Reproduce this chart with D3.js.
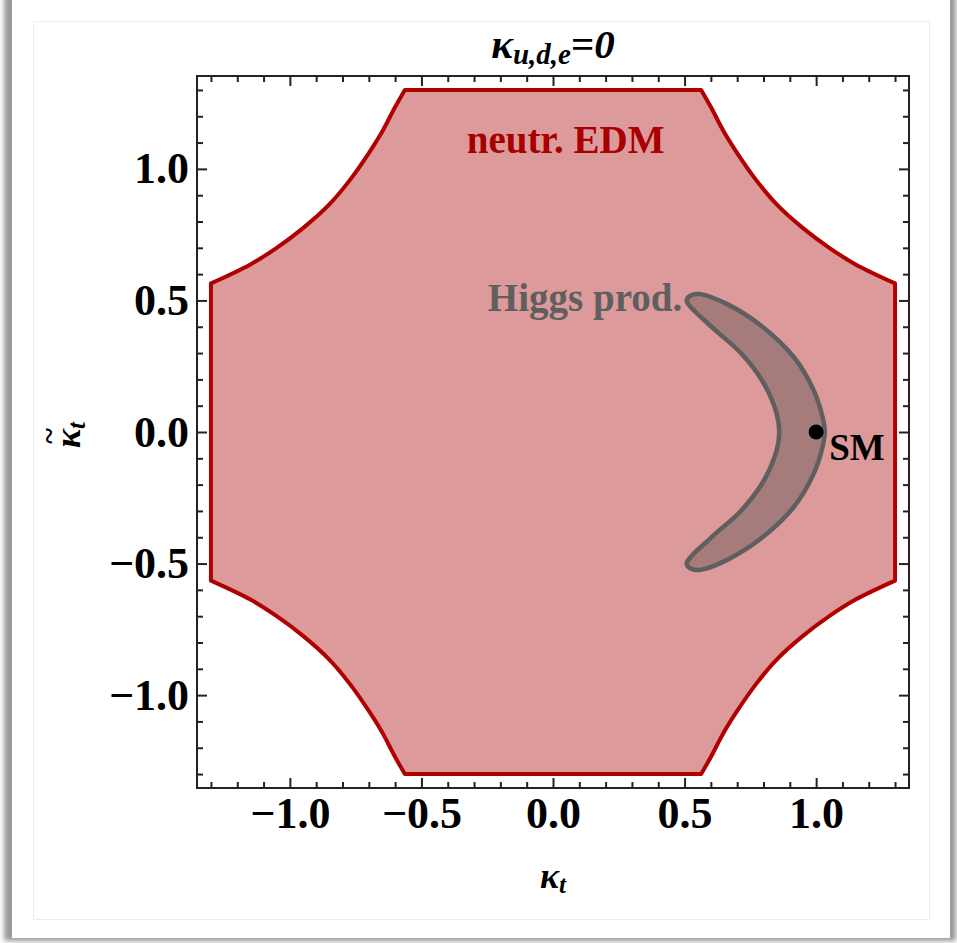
<!DOCTYPE html>
<html>
<head>
<meta charset="utf-8">
<script src="https://cdn.jsdelivr.net/npm/d3@7"></script>
<style>
  body { margin: 0; background: #fff; }
  text { font-family: "Liberation Serif", "Times New Roman", serif; font-weight: bold; }
</style>
</head>
<body>
<div id="chart"></div>
<script>
// tick values
var majorTicks = [-1.0, -0.5, 0.0, 0.5, 1.0];
var minorTicks = [-1.3, -1.2, -1.1, -0.9, -0.8, -0.7, -0.6, -0.4, -0.3, -0.2, -0.1,
                  0.1, 0.2, 0.3, 0.4, 0.6, 0.7, 0.8, 0.9, 1.1, 1.2, 1.3];

// neutron EDM allowed region, boundary pieces (kappa_t, kappa~_t)
var edmTop = [[-0.563, 1.30], [0.563, 1.30]];
var edmUpperRight = [[0.563, 1.30], [0.60, 1.235], [0.65, 1.14], [0.70, 1.06], [0.77, 0.96],
                     [0.85, 0.865], [0.95, 0.775], [1.05, 0.70], [1.15, 0.637], [1.30, 0.565]];
var edmRight = [[1.30, 0.565], [1.30, -0.565]];
var edmLowerRight = [[1.30, -0.565], [1.15, -0.637], [1.05, -0.70], [0.95, -0.775], [0.85, -0.865],
                     [0.77, -0.96], [0.70, -1.06], [0.65, -1.14], [0.60, -1.235], [0.563, -1.30]];
var edmBottom = [[0.563, -1.30], [-0.563, -1.30]];
var edmLowerLeft = [[-0.563, -1.30], [-0.60, -1.235], [-0.65, -1.14], [-0.70, -1.06], [-0.77, -0.96],
                    [-0.85, -0.865], [-0.95, -0.775], [-1.05, -0.70], [-1.15, -0.637], [-1.30, -0.565]];
var edmLeft = [[-1.30, -0.565], [-1.30, 0.565]];
var edmUpperLeft = [[-1.30, 0.565], [-1.15, 0.637], [-1.05, 0.70], [-0.95, 0.775], [-0.85, 0.865],
                    [-0.77, 0.96], [-0.70, 1.06], [-0.65, 1.14], [-0.60, 1.235], [-0.563, 1.30]];

// Higgs production allowed region (closed outline)
var higgsRegion = [[0.508, 0.500], [0.525, 0.520], [0.560, 0.524], [0.662, 0.486], [0.790, 0.405],
                   [0.915, 0.285], [0.990, 0.160], [1.026, 0.050], [1.033, 0.0], [1.026, -0.050],
                   [0.990, -0.160], [0.915, -0.285], [0.790, -0.405], [0.662, -0.486], [0.560, -0.524],
                   [0.525, -0.520], [0.508, -0.500], [0.600, -0.402], [0.712, -0.302], [0.798, -0.190],
                   [0.850, -0.070], [0.860, 0.0], [0.850, 0.070], [0.798, 0.190], [0.712, 0.302],
                   [0.600, 0.402]];

var smPoint = [1.0, 0.0];

// page size
var svgWidth = 957;
var svgHeight = 943;

// plot frame
var margin = { top: 76, right: 48, bottom: 155, left: 197 };
var width = svgWidth - margin.left - margin.right;
var height = svgHeight - margin.top - margin.bottom;

var svg = d3.select("#chart")
  .append("svg")
  .attr("width", svgWidth)
  .attr("height", svgHeight);

// card with a shadow, like the screenshot
var defs = svg.append("defs");
defs.append("filter").attr("id", "blur")
  .attr("x", "-5%").attr("y", "-5%").attr("width", "110%").attr("height", "110%")
  .append("feGaussianBlur").attr("stdDeviation", 2.5);

svg.append("rect")
  .attr("x", 4).attr("y", -20)
  .attr("width", 952).attr("height", 961)
  .attr("fill", "#9a9a9a")
  .attr("filter", "url(#blur)");
svg.append("rect")
  .attr("x", 12).attr("y", -20)
  .attr("width", 938).attr("height", 958)
  .attr("fill", "#fff");
svg.append("rect")
  .attr("x", 33.5).attr("y", 21.5)
  .attr("width", 896).attr("height", 898)
  .attr("fill", "none")
  .attr("stroke", "#ececec")
  .attr("stroke-width", 1);

var chartGroup = svg.append("g")
  .attr("transform", `translate(${margin.left}, ${margin.top})`);

// scales
var xScale = d3.scaleLinear().domain([-1.353, 1.353]).range([0, width]);
var yScale = d3.scaleLinear().domain([-1.353, 1.353]).range([height, 0]);

var line = d3.line()
  .x(d => xScale(d[0]))
  .y(d => yScale(d[1]));
var curve = d3.line()
  .x(d => xScale(d[0]))
  .y(d => yScale(d[1]))
  .curve(d3.curveCatmullRom.alpha(0.5));

// join the pieces into one closed path
var pieces = [
  line(edmTop), curve(edmUpperRight), line(edmRight), curve(edmLowerRight),
  line(edmBottom), curve(edmLowerLeft), line(edmLeft), curve(edmUpperLeft)
];
var edmPath = pieces.map((p, i) => i === 0 ? p : p.replace(/^M/, "L")).join("") + "Z";

chartGroup.append("path")
  .attr("d", edmPath)
  .attr("fill", "#dc9a9a")
  .attr("stroke", "#b00000")
  .attr("stroke-width", 4)
  .attr("stroke-linejoin", "round");

var closedCurve = d3.line()
  .x(d => xScale(d[0]))
  .y(d => yScale(d[1]))
  .curve(d3.curveCatmullRomClosed.alpha(0.5));

chartGroup.append("path")
  .attr("d", closedCurve(higgsRegion))
  .attr("fill", "#a67b7b")
  .attr("stroke", "#5f5f5f")
  .attr("stroke-width", 4.5)
  .attr("stroke-linejoin", "round");

// SM point
chartGroup.append("circle")
  .attr("cx", xScale(smPoint[0]))
  .attr("cy", yScale(smPoint[1]))
  .attr("r", 7.5)
  .attr("fill", "#000");

// axes: major and minor ticks, all pointing inward
var fmt = d3.format(".1f");

function styleAxis(g) {
  g.select(".domain").remove();
  g.selectAll(".tick line").attr("stroke", "#222").attr("stroke-width", 2);
  g.selectAll("text")
    .attr("fill", "#000")
    .style("font-size", "44px")
    .style("font-family", '"Liberation Serif", "Times New Roman", serif')
    .style("font-weight", "bold");
}

chartGroup.append("g")
  .attr("transform", `translate(0, ${height})`)
  .call(d3.axisBottom(xScale).tickValues(majorTicks).tickFormat(fmt).tickSizeInner(-10).tickSizeOuter(0).tickPadding(9))
  .call(styleAxis);
chartGroup.append("g")
  .attr("transform", `translate(0, ${height})`)
  .call(d3.axisBottom(xScale).tickValues(minorTicks).tickFormat("").tickSizeInner(-6).tickSizeOuter(0))
  .call(styleAxis);

chartGroup.append("g")
  .call(d3.axisLeft(yScale).tickValues(majorTicks).tickFormat(fmt).tickSizeInner(-10).tickSizeOuter(0).tickPadding(8))
  .call(styleAxis);
chartGroup.append("g")
  .call(d3.axisLeft(yScale).tickValues(minorTicks).tickFormat("").tickSizeInner(-6).tickSizeOuter(0))
  .call(styleAxis);

chartGroup.append("g")
  .call(d3.axisTop(xScale).tickValues(majorTicks).tickFormat("").tickSizeInner(-10).tickSizeOuter(0))
  .call(styleAxis);
chartGroup.append("g")
  .call(d3.axisTop(xScale).tickValues(minorTicks).tickFormat("").tickSizeInner(-6).tickSizeOuter(0))
  .call(styleAxis);

chartGroup.append("g")
  .attr("transform", `translate(${width}, 0)`)
  .call(d3.axisRight(yScale).tickValues(majorTicks).tickFormat("").tickSizeInner(-10).tickSizeOuter(0))
  .call(styleAxis);
chartGroup.append("g")
  .attr("transform", `translate(${width}, 0)`)
  .call(d3.axisRight(yScale).tickValues(minorTicks).tickFormat("").tickSizeInner(-6).tickSizeOuter(0))
  .call(styleAxis);

// frame
chartGroup.append("rect")
  .attr("width", width)
  .attr("height", height)
  .attr("fill", "none")
  .attr("stroke", "#222")
  .attr("stroke-width", 2);

// region labels
chartGroup.append("text")
  .attr("x", xScale(-0.328))
  .attr("y", yScale(1.06))
  .attr("fill", "#a80000")
  .style("font-size", "39px")
  .text("neutr. EDM");

chartGroup.append("text")
  .attr("x", xScale(0.491))
  .attr("y", yScale(0.46))
  .attr("text-anchor", "end")
  .attr("fill", "#5f5f5f")
  .style("font-size", "39px")
  .text("Higgs prod.");

chartGroup.append("text")
  .attr("x", xScale(1.05))
  .attr("y", yScale(-0.106))
  .attr("fill", "#000")
  .style("font-size", "37px")
  .text("SM");

// title
var title = svg.append("text")
  .attr("x", margin.left + width / 2)
  .attr("y", 58)
  .attr("text-anchor", "middle")
  .attr("fill", "#000");
title.append("tspan").style("font-size", "41px").style("font-style", "italic").text("κ");
title.append("tspan").style("font-size", "29px").style("font-style", "italic").attr("dy", 6).text("u,d,e");
title.append("tspan").style("font-size", "41px").attr("dy", -6).text("=");
title.append("tspan").style("font-size", "41px").style("font-style", "italic").text("0");

// x axis label
var xLabel = svg.append("text")
  .attr("x", margin.left + width / 2)
  .attr("y", 888)
  .attr("text-anchor", "middle")
  .attr("fill", "#000");
xLabel.append("tspan").style("font-size", "36px").style("font-style", "italic").text("κ");
xLabel.append("tspan").style("font-size", "25px").style("font-style", "italic").attr("dy", 5).text("t");

// y axis label, tilde drawn over the kappa
var yLabelGroup = svg.append("g")
  .attr("transform", `translate(80, ${margin.top + height / 2}) rotate(-90)`);
var yLabel = yLabelGroup.append("text")
  .attr("x", -16)
  .attr("fill", "#000");
yLabel.append("tspan").style("font-size", "36px").style("font-style", "italic").text("κ");
yLabel.append("tspan").style("font-size", "25px").style("font-style", "italic").attr("dy", 5).text("t");
yLabelGroup.append("text")
  .attr("x", -4)
  .attr("y", -21)
  .attr("text-anchor", "middle")
  .attr("fill", "#000")
  .style("font-size", "30px")
  .text("~");
</script>
</body>
</html>
